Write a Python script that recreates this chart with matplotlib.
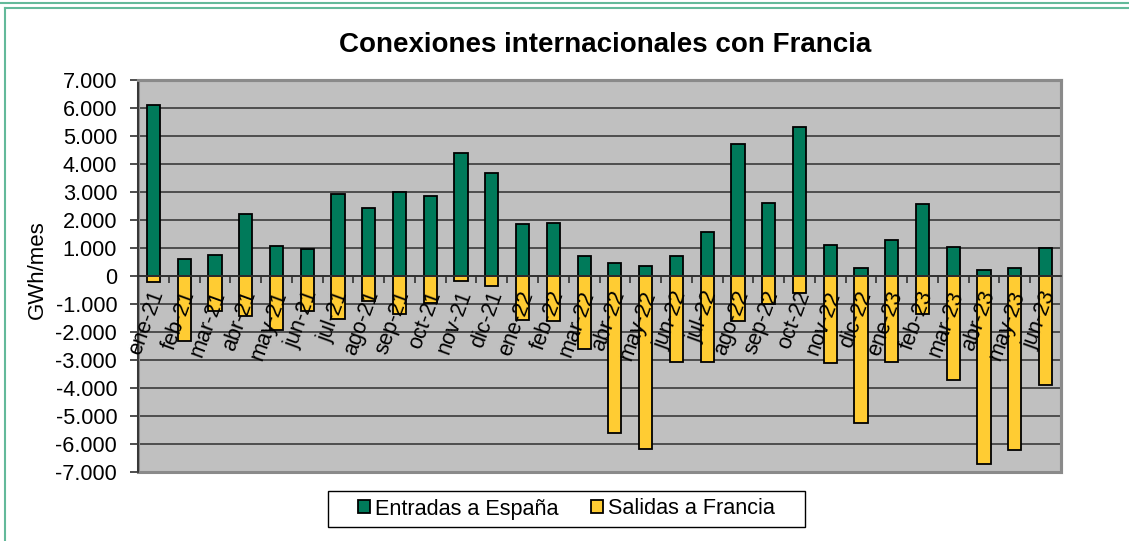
import matplotlib.pyplot as plt
import numpy as np
from matplotlib.lines import Line2D
from matplotlib.patches import Rectangle
from matplotlib.ticker import FuncFormatter, FixedLocator
from matplotlib.transforms import ScaledTranslation

plt.rcParams['font.family'] = ['Liberation Sans', 'DejaVu Sans']

# Datos (GWh/mes)
meses = ['ene-21', 'feb-21', 'mar-21', 'abr-21', 'may-21', 'jun-21', 'jul-21', 'ago-21',
         'sep-21', 'oct-21', 'nov-21', 'dic-21', 'ene-22', 'feb-22', 'mar-22', 'abr-22',
         'may-22', 'jun-22', 'jul-22', 'ago-22', 'sep-22', 'oct-22', 'nov-22', 'dic-22',
         'ene-23', 'feb-23', 'mar-23', 'abr-23', 'may-23', 'jun-23']
entradas = [6100, 600, 750, 2200, 1080, 960, 2930, 2420, 3010, 2860, 4380, 3670,
            1860, 1900, 710, 475, 357, 725, 1560, 4700, 2620, 5330, 1110, 270,
            1290, 2580, 1050, 210, 270, 1010]
salidas = [-226, -2310, -1260, -1420, -1930, -1260, -1540, -890, -1360, -950, -180, -360,
           -1580, -1600, -2610, -5600, -6190, -3060, -3070, -1600, -1010, -620, -3100, -5260,
           -3060, -1360, -3710, -6730, -6210, -3890]
yticks = list(range(-7000, 7001, 1000))

W, H = 1129, 541
fig = plt.figure(figsize=(W / 100, H / 100), dpi=100)
ax = fig.add_axes([138 / W, 1 - 472 / H, (1061 - 138) / W, (472 - 80) / H])

verde = '#007A5A'
amarillo = '#FFCC33'
x = np.arange(len(meses))

ax.bar(x, entradas, width=0.43, color=verde, edgecolor='black', linewidth=1.3,
       zorder=1, label='Entradas a España')
ax.bar(x, salidas, width=0.43, color=amarillo, edgecolor='black', linewidth=1.3,
       zorder=1, label='Salidas a Francia')

ax.set_facecolor('#C0C0C0')
ax.set_xlim(-0.5, len(meses) - 0.5)
ax.set_ylim(-7000, 7000)
ax.set_yticks(yticks)
ax.yaxis.set_major_formatter(FuncFormatter(lambda v, p: f'{v:,.0f}'.replace(',', '.')))
ax.tick_params(axis='y', direction='out', length=6, width=1.3, color='#404040',
               labelsize=15.6, pad=9)

# rejilla detras de las barras, etiquetas del eje x delante
ax.set_axisbelow(True)
ax.grid(axis='y', color='#454545', linewidth=1.3)
ax.xaxis.set_zorder(3)

# eje de categorias sobre el cero
ax.spines['bottom'].set_position(('data', 0))
ax.spines['bottom'].set_color('#303030')
ax.spines['bottom'].set_linewidth(1.3)
ax.spines['left'].set_color('#303030')
ax.spines['left'].set_linewidth(1.3)
for s in ['top', 'right']:
    ax.spines[s].set_color('#8a8a8a')
    ax.spines[s].set_linewidth(2.2)
ax.add_patch(Rectangle((0, 0), 1, 1, transform=ax.transAxes, fill=False,
                       edgecolor='#8a8a8a', linewidth=2.2, clip_on=False, zorder=0.9))

ax.set_xticks(x)
ax.set_xticklabels(meses)
ax.xaxis.set_minor_locator(FixedLocator(x[:-1] + 0.5))
ax.tick_params(axis='x', which='major', length=0, pad=11, labelsize=15.6)
ax.tick_params(axis='x', which='minor', direction='out', length=5, width=1.2, color='#303030')
desplaza = ScaledTranslation(5 / 100, 0, fig.dpi_scale_trans)
for lbl in ax.get_xticklabels():
    lbl.set_rotation(70)
    lbl.set_ha('right')
    lbl.set_va('center')
    lbl.set_rotation_mode('anchor')
    lbl.set_transform(lbl.get_transform() + desplaza)

fig.text(605.5 / W, 1 - 45 / H, 'Conexiones internacionales con Francia',
         fontsize=20, fontweight='bold', ha='center', va='center')
fig.text(37 / W, 1 - 270 / H, 'GWh/mes', fontsize=16, rotation=90, ha='center', va='center')

# leyenda con marco propio
fig.add_artist(Rectangle((328 / W, 1 - 527 / H), (805 - 328) / W, 36 / H,
                         transform=fig.transFigure, fill=False, edgecolor='black', linewidth=1.0))
fig.legend(loc='center', bbox_to_anchor=(566.5 / W, 1 - 509 / H), ncol=2, frameon=False,
           fontsize=15.6, handlelength=0.55, handleheight=0.55, handletextpad=0.25,
           columnspacing=1.5, borderpad=0.2)

# marco exterior verde
marco = '#63B99A'
fig.add_artist(Line2D([0, 1], [1 - 2.5 / H, 1 - 2.5 / H], transform=fig.transFigure,
                      color=marco, linewidth=1.5))
fig.add_artist(Line2D([4.5 / W, 1], [1 - 7.5 / H, 1 - 7.5 / H], transform=fig.transFigure,
                      color=marco, linewidth=1.5))
fig.add_artist(Line2D([4.5 / W, 4.5 / W], [0, 1 - 7.5 / H], transform=fig.transFigure,
                      color=marco, linewidth=1.5))

fig.savefig('out.png', dpi=100)
